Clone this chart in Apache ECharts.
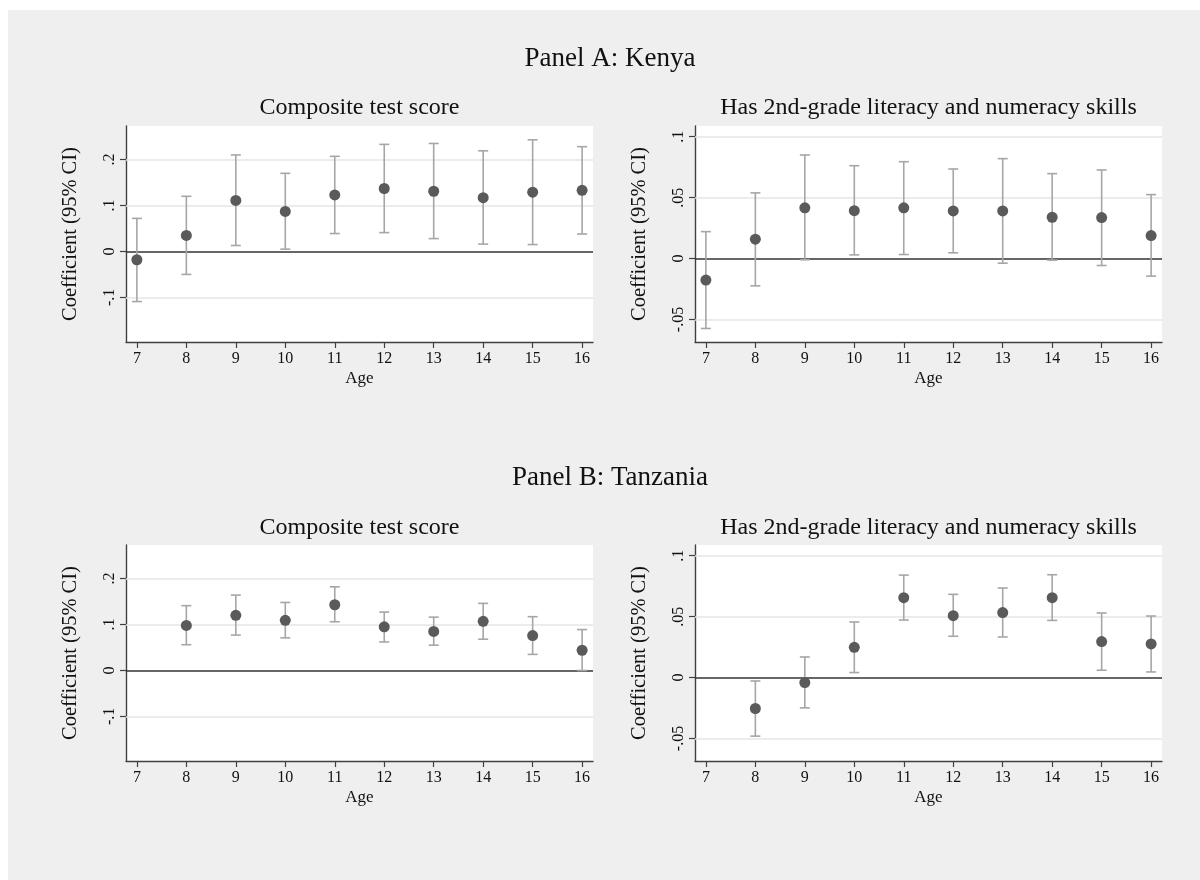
<!DOCTYPE html>
<html>
<head>
<meta charset="utf-8">
<script src="https://cdn.jsdelivr.net/npm/echarts@6/dist/echarts.min.js"></script>
<style>html,body{margin:0;padding:0;background:#fff}#c{width:1200px;height:880px}</style>
</head>
<body>
<div id="c"></div>
<script>
// ---- data ----
const kenyaAges = [7, 8, 9, 10, 11, 12, 13, 14, 15, 16];
const kenyaScoreCoef = [-0.018, 0.035, 0.111, 0.087, 0.123, 0.137, 0.131, 0.117, 0.129, 0.133];
const kenyaScoreLo   = [-0.109, -0.050, 0.013, 0.005, 0.039, 0.041, 0.028, 0.016, 0.015, 0.038];
const kenyaScoreHi   = [0.072, 0.120, 0.210, 0.170, 0.207, 0.233, 0.235, 0.219, 0.243, 0.228];

const kenyaSkillCoef = [-0.0177, 0.0159, 0.0416, 0.0393, 0.0416, 0.0391, 0.0391, 0.0339, 0.0336, 0.0189];
const kenyaSkillLo   = [-0.0574, -0.0224, -0.0010, 0.0030, 0.0033, 0.0047, -0.0038, -0.0013, -0.0057, -0.0144];
const kenyaSkillHi   = [0.0221, 0.0539, 0.0850, 0.0762, 0.0795, 0.0735, 0.0820, 0.0697, 0.0727, 0.0525];

const tzAges = [8, 9, 10, 11, 12, 13, 14, 15, 16];
const tzScoreCoef = [0.098, 0.120, 0.109, 0.143, 0.095, 0.085, 0.107, 0.076, 0.044];
const tzScoreLo   = [0.056, 0.077, 0.071, 0.106, 0.062, 0.055, 0.068, 0.035, 0.000];
const tzScoreHi   = [0.141, 0.164, 0.148, 0.182, 0.127, 0.116, 0.146, 0.117, 0.089];

const tzSkillCoef = [-0.0254, -0.0041, 0.0248, 0.0656, 0.0508, 0.0533, 0.0656, 0.0295, 0.0276];
const tzSkillLo   = [-0.0481, -0.0249, 0.0041, 0.0472, 0.0339, 0.0333, 0.0469, 0.0060, 0.0046];
const tzSkillHi   = [-0.0028, 0.0169, 0.0456, 0.0841, 0.0683, 0.0735, 0.0844, 0.0530, 0.0505];

const xTicks = [7, 8, 9, 10, 11, 12, 13, 14, 15, 16];
const scoreTicks = [-0.1, 0, 0.1, 0.2];
const skillTicks = [-0.05, 0, 0.05, 0.1];

const panelTitles = ['Panel A: Kenya', 'Panel B: Tanzania'];
const subTitles = ['Composite test score', 'Has 2nd-grade literacy and numeracy skills'];
const yTitle = 'Coefficient (95% CI)';
const xTitle = 'Age';

// ---- layout / style ----
const FONT = 'Liberation Serif';
const grids = [
  {left: 126, top: 126, width: 467, height: 216},
  {left: 695, top: 126, width: 467, height: 216},
  {left: 126, top: 545, width: 467, height: 216},
  {left: 695, top: 545, width: 467, height: 216}
];
const scoreRange = [-0.197, 0.273];
const skillRange = [-0.0685, 0.1088];

function fmt(v) {
  if (Math.abs(v) < 1e-12) return '0';
  return String(+v.toFixed(3)).replace('0.', '.');
}

const panels = [
  {ages: kenyaAges, c: kenyaScoreCoef, lo: kenyaScoreLo, hi: kenyaScoreHi, ticks: scoreTicks, range: scoreRange},
  {ages: kenyaAges, c: kenyaSkillCoef, lo: kenyaSkillLo, hi: kenyaSkillHi, ticks: skillTicks, range: skillRange},
  {ages: tzAges, c: tzScoreCoef, lo: tzScoreLo, hi: tzScoreHi, ticks: scoreTicks, range: scoreRange},
  {ages: tzAges, c: tzSkillCoef, lo: tzSkillLo, hi: tzSkillHi, ticks: skillTicks, range: skillRange}
];

const axisColor = '#404040';
const xAxis = [], yAxis = [], series = [];
panels.forEach((p, i) => {
  xAxis.push({
    type: 'value', gridIndex: i, min: 6.78, max: 16.22,
    name: xTitle, nameLocation: 'middle', nameGap: 28,
    nameTextStyle: {fontFamily: FONT, fontSize: 17, color: '#111'},
    axisLine: {show: true, onZero: false, lineStyle: {color: axisColor, width: 1.4}},
    axisTick: {show: true, length: 6, customValues: xTicks, lineStyle: {color: axisColor, width: 1.2}},
    axisLabel: {customValues: xTicks, fontFamily: FONT, fontSize: 16, color: '#111', margin: 9},
    splitLine: {show: false}
  });
  yAxis.push({
    type: 'value', gridIndex: i, min: p.range[0], max: p.range[1],
    name: yTitle, nameLocation: 'middle', nameGap: 45, nameRotate: 90,
    nameTextStyle: {fontFamily: FONT, fontSize: 20.5, color: '#111'},
    axisLine: {show: true, onZero: false, lineStyle: {color: axisColor, width: 1.4}},
    axisTick: {show: true, length: 6, customValues: p.ticks, lineStyle: {color: axisColor, width: 1.2}},
    axisLabel: {customValues: p.ticks, rotate: 90, fontFamily: FONT, fontSize: 16, color: '#111', margin: 8, formatter: fmt},
    splitLine: {show: false}
  });
  const gridLines = p.ticks.filter(t => Math.abs(t) > 1e-12).map(t => ({yAxis: t, lineStyle: {color: '#e6e6e6', width: 1.5, type: 'solid'}}));
  gridLines.push({yAxis: 0, lineStyle: {color: '#333', width: 1.5, type: 'solid'}});
  series.push({
    type: 'custom', xAxisIndex: i, yAxisIndex: i, z: 3,
    data: p.ages.map((a, k) => [a, p.lo[k], p.hi[k]]),
    encode: {x: 0, y: [1, 2]},
    renderItem: function (params, api) {
      const x = api.value(0);
      const a = api.coord([x, api.value(1)]);
      const b = api.coord([x, api.value(2)]);
      const hw = 5;
      const st = {stroke: '#a6a6a6', lineWidth: 1.6};
      return {type: 'group', children: [
        {type: 'line', shape: {x1: a[0], y1: a[1], x2: b[0], y2: b[1]}, style: st},
        {type: 'line', shape: {x1: a[0] - hw, y1: a[1], x2: a[0] + hw, y2: a[1]}, style: st},
        {type: 'line', shape: {x1: b[0] - hw, y1: b[1], x2: b[0] + hw, y2: b[1]}, style: st}
      ]};
    },
    markLine: {silent: true, symbol: 'none', animation: false, label: {show: false}, data: gridLines, z: 1},
    silent: true, animation: false
  });
  series.push({
    type: 'scatter', xAxisIndex: i, yAxisIndex: i, z: 5,
    data: p.ages.map((a, k) => [a, p.c[k]]),
    symbol: 'circle', symbolSize: 11,
    itemStyle: {color: '#5a5a5a', opacity: 1},
    silent: true, animation: false
  });
});

const txt = (x, y, s, size) => ({type: 'text', x: x, y: y, style: {text: s, fontFamily: FONT, fontSize: size, fill: '#111', textAlign: 'center', textVerticalAlign: 'middle'}});

const option = {
  backgroundColor: '#ffffff',
  animation: false,
  grid: grids.map(g => Object.assign({show: true, backgroundColor: '#ffffff', borderWidth: 0, containLabel: false}, g)),
  xAxis: xAxis,
  yAxis: yAxis,
  series: series,
  graphic: [
    {type: 'rect', z: -10, shape: {x: 8, y: 10, width: 1192, height: 870}, style: {fill: '#efefef'}, silent: true},
    txt(610, 59, panelTitles[0], 27),
    txt(610, 478, panelTitles[1], 27),
    txt(359.5, 108, subTitles[0], 24),
    txt(928.5, 108, subTitles[1], 24),
    txt(359.5, 528, subTitles[0], 24),
    txt(928.5, 528, subTitles[1], 24)
  ]
};

const chart = echarts.init(document.getElementById('c'), null, {renderer: 'canvas'});
chart.setOption(option);
</script>
</body>
</html>
